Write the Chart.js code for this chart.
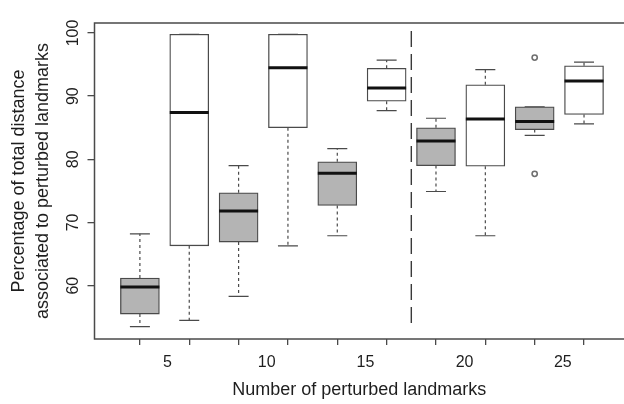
<!DOCTYPE html>
<html>
<head>
<meta charset="utf-8">
<script src="https://cdn.jsdelivr.net/npm/chart.js@4/dist/chart.umd.min.js"></script>
<style>
  html, body { margin: 0; padding: 0; background: #fff; }
  #wrap { width: 624px; height: 404px; }
</style>
</head>
<body>
<div id="wrap"><canvas id="boxChart"></canvas></div>
<script>
// one box per slot, slots 1..10 along the x axis
const slots = [1, 2, 3, 4, 5, 6, 7, 8, 9, 10];
const lowerWhisker = [53.5, 54.5, 58.3, 66.3, 67.9, 87.7, 74.9, 67.9, 83.8, 85.6];
const lowerQuartile = [55.5, 66.3, 66.9, 85.0, 72.7, 89.2, 79.0, 78.9, 84.7, 87.1];
const medians = [59.8, 87.4, 71.8, 94.5, 77.8, 91.3, 82.9, 86.4, 86.0, 92.4];
const upperQuartile = [61.2, 99.8, 74.7, 99.8, 79.6, 94.4, 85.0, 91.8, 88.3, 94.8];
const upperWhisker = [68.2, 99.8, 79.0, 99.8, 81.7, 95.7, 86.5, 94.2, 88.3, 95.4];
const outliers = [[], [], [], [], [], [], [], [], [96.1, 77.7], []];

// x tick labels and where they sit on the slot axis
const xTickLabels = ['5', '10', '15', '20', '25'];
const xTickLabelAt = [1.56, 3.57, 5.57, 7.58, 9.57];
const yTicks = [60, 70, 80, 90, 100];

// vertical dashed separator
const dividerAt = 6.5;
const dividerSpan = [53.0, 100.3];

const INK = '#4a4a4a';
const TEXT = '#1e1e1e';

const boxParts = {
  id: 'boxParts',
  beforeDatasetsDraw(chart) {
    const {ctx, scales: {x, y}} = chart;
    ctx.save();
    ctx.strokeStyle = INK;
    ctx.lineWidth = 1.2;
    slots.forEach((s, i) => {
      const px = x.getPixelForValue(s);
      ctx.setLineDash([3, 3]);
      ctx.beginPath();
      ctx.moveTo(px, y.getPixelForValue(upperQuartile[i]));
      ctx.lineTo(px, y.getPixelForValue(upperWhisker[i]));
      ctx.moveTo(px, y.getPixelForValue(lowerQuartile[i]));
      ctx.lineTo(px, y.getPixelForValue(lowerWhisker[i]));
      ctx.stroke();
      ctx.setLineDash([]);
      ctx.beginPath();
      [upperWhisker[i], lowerWhisker[i]].forEach(v => {
        const py = y.getPixelForValue(v);
        ctx.moveTo(px - 10, py);
        ctx.lineTo(px + 10, py);
      });
      ctx.stroke();
    });
    ctx.restore();
  },
  afterDatasetsDraw(chart) {
    const {ctx, chartArea: a, scales: {x, y}} = chart;
    ctx.save();
    // medians
    ctx.strokeStyle = '#111';
    ctx.lineWidth = 3;
    slots.forEach((s, i) => {
      const px = x.getPixelForValue(s);
      const py = y.getPixelForValue(medians[i]);
      ctx.beginPath();
      ctx.moveTo(px - 19.5, py);
      ctx.lineTo(px + 19.5, py);
      ctx.stroke();
    });
    // outliers
    ctx.strokeStyle = '#707070';
    ctx.lineWidth = 1.6;
    slots.forEach((s, i) => {
      outliers[i].forEach(v => {
        ctx.beginPath();
        ctx.arc(x.getPixelForValue(s), y.getPixelForValue(v), 2.6, 0, Math.PI * 2);
        ctx.stroke();
      });
    });
    // separator
    ctx.strokeStyle = '#3a3a3a';
    ctx.lineWidth = 1.4;
    ctx.setLineDash([16, 7]);
    ctx.beginPath();
    const dx = x.getPixelForValue(dividerAt);
    ctx.moveTo(dx, y.getPixelForValue(dividerSpan[1]));
    ctx.lineTo(dx, y.getPixelForValue(dividerSpan[0]));
    ctx.stroke();
    ctx.setLineDash([]);
    // frame
    ctx.strokeStyle = INK;
    ctx.lineWidth = 1.5;
    ctx.strokeRect(a.left, a.top, a.right - a.left + 6, a.bottom - a.top);
    ctx.restore();
  }
};

const config = {
  type: 'bar',
  data: {
    datasets: [{
      data: slots.map((s, i) => ({x: s, y: [lowerQuartile[i], upperQuartile[i]]})),
      backgroundColor: slots.map((s, i) => i % 2 === 0 ? '#b4b4b4' : '#ffffff'),
      borderColor: INK,
      borderWidth: 1.3,
      borderSkipped: false,
      barThickness: 39
    }]
  },
  options: {
    responsive: true,
    maintainAspectRatio: false,
    animation: false,
    devicePixelRatio: 1,
    layout: { padding: { top: 23, right: 0, bottom: 0, left: 0 } },
    plugins: { legend: { display: false }, tooltip: { enabled: false } },
    scales: {
      x: {
        type: 'linear',
        offset: false,
        min: 0.08,
        max: 10.81,
        afterBuildTicks: scale => {
          scale.ticks = slots.map(v => ({value: v}))
            .concat(xTickLabelAt.map(v => ({value: v})))
            .sort((p, q) => p.value - q.value);
        },
        afterFit: scale => { scale.height = 65; },
        ticks: {
          autoSkip: false,
          maxRotation: 0,
          minRotation: 0,
          padding: 8,
          color: TEXT,
          font: { family: 'Liberation Sans', size: 16 },
          callback: v => {
            const k = xTickLabelAt.indexOf(v);
            return k >= 0 ? xTickLabels[k] : '';
          }
        },
        grid: {
          offset: false,
          drawOnChartArea: false,
          drawTicks: true,
          tickLength: 6,
          lineWidth: 1.3,
          tickColor: c => (c.tick && Number.isInteger(c.tick.value)) ? INK : 'rgba(0,0,0,0)'
        },
        border: { display: false },
        title: {
          display: true,
          text: 'Number of perturbed landmarks',
          color: TEXT,
          font: { family: 'Liberation Sans', size: 18 },
          padding: { top: 0, bottom: 3 }
        }
      },
      y: {
        min: 51.55,
        max: 101.58,
        afterBuildTicks: scale => { scale.ticks = yTicks.map(v => ({value: v})); },
        afterFit: scale => { scale.width = 94.5; },
        ticks: {
          minRotation: 90,
          maxRotation: 90,
          crossAlign: 'center',
          padding: 1,
          color: TEXT,
          font: { family: 'Liberation Sans', size: 16 }
        },
        grid: {
          drawOnChartArea: false,
          drawTicks: true,
          tickLength: 7,
          lineWidth: 1.3,
          tickColor: INK
        },
        border: { display: false },
        title: {
          display: true,
          text: ['Percentage of total distance', 'associated to perturbed landmarks'],
          color: TEXT,
          font: { family: 'Liberation Sans', size: 18, lineHeight: 1.28 },
          padding: { top: 8, bottom: 0 }
        }
      }
    }
  },
  plugins: [boxParts]
};

new Chart(document.getElementById('boxChart'), config);
</script>
</body>
</html>
